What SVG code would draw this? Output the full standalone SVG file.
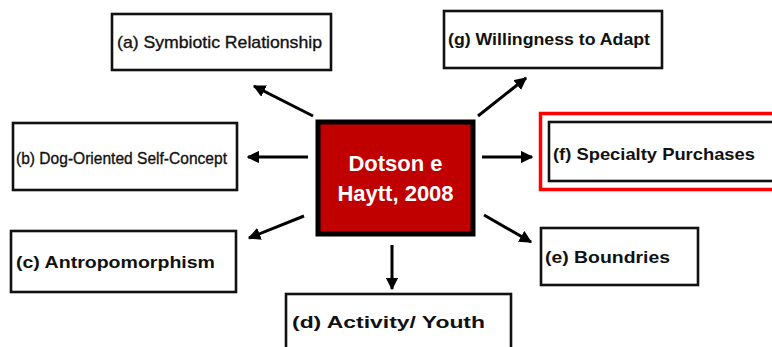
<svg xmlns="http://www.w3.org/2000/svg" width="772" height="347" viewBox="0 0 772 347">
<style>
.box{fill:#fff;stroke:#111;stroke-width:2.6}
.lbl{font-family:"Liberation Sans",Arial,sans-serif;font-size:17px;fill:#111}
.reg{stroke:#111;stroke-width:0.35}
.b{font-weight:bold}
.ctr{font-family:"Liberation Sans",Arial,sans-serif;font-size:22px;font-weight:bold;fill:#fff;text-anchor:middle}
.conn line{stroke:#000;stroke-width:3;marker-end:url(#ah)}
</style>
<defs>
<marker id="ah" viewBox="0 0 10 10" refX="9" refY="5" markerWidth="4.2" markerHeight="4.2" orient="auto" markerUnits="strokeWidth">
<path d="M0,0 L10,5 L0,10 Z" fill="#000"/>
</marker>
</defs>
<rect width="772" height="347" fill="#fff"/>
<g id="center">
<rect x="318" y="122" width="155" height="112" fill="#c00000" stroke="#000" stroke-width="5"/>
<text class="ctr" x="395.5" y="171">Dotson e</text>
<text class="ctr" x="395.5" y="201">Haytt, 2008</text>
</g>
<g id="node-a">
<rect class="box" x="112" y="14" width="219" height="56"/>
<text class="lbl reg" x="117" y="48" font-size="18" textLength="205" lengthAdjust="spacingAndGlyphs">(a) Symbiotic Relationship</text>
</g>
<g id="node-b">
<rect class="box" x="13" y="123" width="224" height="67"/>
<text class="lbl reg" x="16" y="164" font-size="20" textLength="211" lengthAdjust="spacingAndGlyphs">(b) Dog-Oriented Self-Concept</text>
</g>
<g id="node-c">
<rect class="box" x="11" y="231" width="225" height="61"/>
<text class="lbl b" x="16" y="268" font-size="18" textLength="199" lengthAdjust="spacingAndGlyphs">(c) Antropomorphism</text>
</g>
<g id="node-d">
<rect class="box" x="286" y="294" width="225" height="60"/>
<text class="lbl b" x="292" y="328" font-size="18" textLength="193" lengthAdjust="spacingAndGlyphs">(d) Activity/ Youth</text>
</g>
<g id="node-e">
<rect class="box" x="541" y="228" width="157" height="57"/>
<text class="lbl b" x="545" y="263" textLength="125" lengthAdjust="spacingAndGlyphs">(e) Boundries</text>
</g>
<g id="node-f">
<rect x="540.5" y="113.5" width="240" height="76" fill="none" stroke="#ff0000" stroke-width="3.5"/>
<rect class="box" x="549" y="122" width="230" height="59"/>
<text class="lbl b" x="553" y="160" font-size="18" textLength="202" lengthAdjust="spacingAndGlyphs">(f) Specialty Purchases</text>
</g>
<g id="node-g">
<rect class="box" x="444" y="11" width="218" height="57"/>
<text class="lbl b" x="448" y="45" textLength="202" lengthAdjust="spacingAndGlyphs">(g) Willingness to Adapt</text>
</g>
<g class="conn" id="connectors">
<line x1="313" y1="116" x2="254" y2="86"/>
<line x1="478" y1="116" x2="526" y2="78"/>
<line x1="308" y1="157" x2="248" y2="157"/>
<line x1="482" y1="157" x2="532" y2="157"/>
<line x1="304" y1="216" x2="249" y2="238"/>
<line x1="484" y1="215" x2="531" y2="242"/>
<line x1="392" y1="245" x2="392" y2="289"/>
</g>
</svg>
